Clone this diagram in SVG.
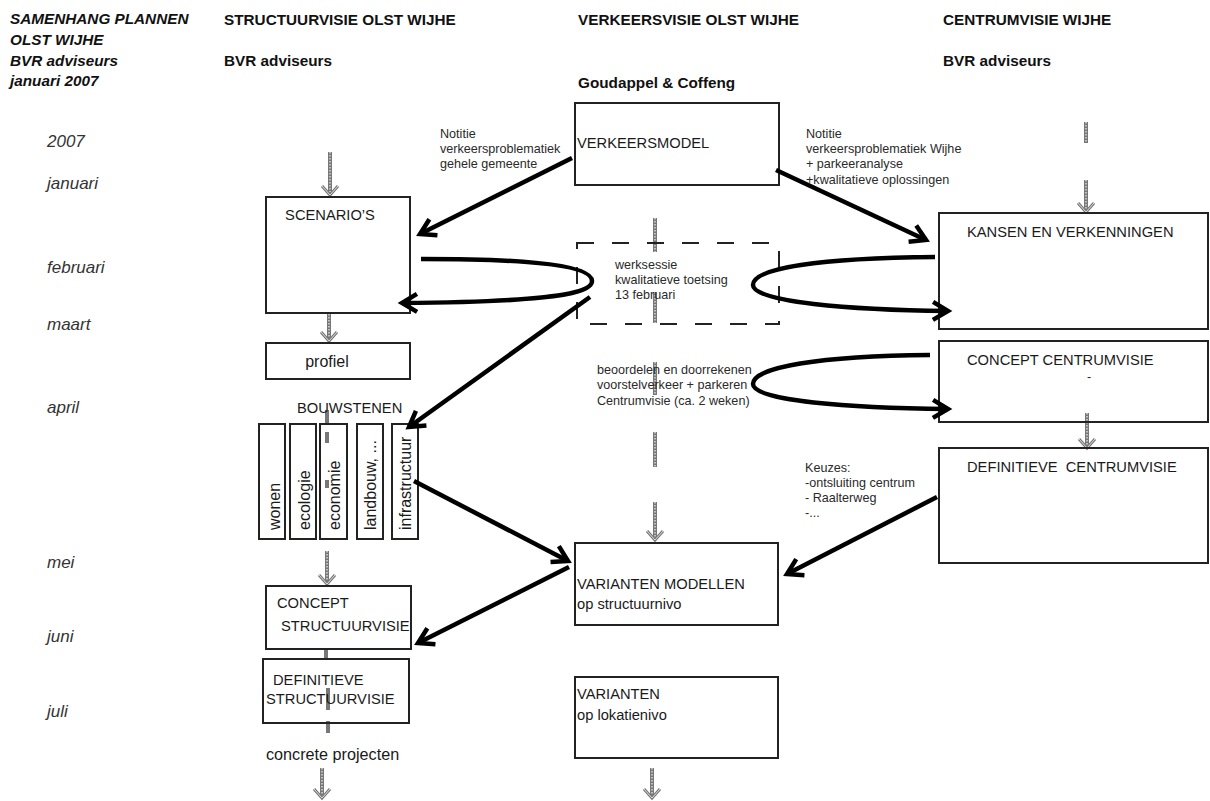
<svg xmlns="http://www.w3.org/2000/svg" width="1210" height="801" viewBox="0 0 1210 801">
<defs>
<style>
.t{font-family:"Liberation Sans",Arial,sans-serif;fill:#1a1a1a}
.hdr{font-weight:bold;font-size:15.3px;fill:#111}
.hi{font-weight:bold;font-style:italic;font-size:15.3px;fill:#111}
.mon{font-style:italic;font-size:17px;fill:#333}
.note{font-size:12.6px;fill:#2a2a2a}
.bt{font-size:14.7px;fill:#1a1a1a}
.box{fill:none;stroke:#222;stroke-width:2}
.con path{fill:none;stroke:#000;stroke-width:4.5;marker-end:url(#ah)}
.gs{stroke:#777;stroke-width:4;fill:none}
.gi{stroke:#e0e0e0;stroke-width:1.4;stroke-dasharray:1.5 1.5;fill:none}
.dash{fill:none;stroke:#222;stroke-width:2;stroke-dasharray:17 18}
</style>
<marker id="ah" markerUnits="userSpaceOnUse" markerWidth="30" markerHeight="30" refX="0" refY="0" viewBox="-20 -15 25 30" orient="auto" overflow="visible">
<path d="M -15 -9 L 0 0 L -15 9" fill="none" stroke="#000" stroke-width="4.5" stroke-linejoin="miter"/>
</marker>
<marker id="gh" markerUnits="userSpaceOnUse" markerWidth="24" markerHeight="24" refX="0" refY="0" viewBox="-14 -12 18 24" orient="auto" overflow="visible">
<path d="M -9 -8 L 0 0 L -9 8" fill="none" stroke="#777" stroke-width="3"/>
<path d="M -9 -8 L 0 0 L -9 8" fill="none" stroke="#ddd" stroke-width="1"/>
</marker>
</defs>
<rect width="1210" height="801" fill="#fff"/>

<g id="headers">
<text class="t hi" x="10" y="24">SAMENHANG PLANNEN</text>
<text class="t hi" x="10" y="45">OLST WIJHE</text>
<text class="t hi" x="10" y="66">BVR adviseurs</text>
<text class="t hi" x="10" y="86">januari 2007</text>
<text class="t hdr" x="224" y="25">STRUCTUURVISIE OLST WIJHE</text>
<text class="t hdr" x="224" y="66">BVR adviseurs</text>
<text class="t hdr" x="578" y="25">VERKEERSVISIE OLST WIJHE</text>
<text class="t hdr" x="578" y="88">Goudappel &amp; Coffeng</text>
<text class="t hdr" x="943" y="25">CENTRUMVISIE WIJHE</text>
<text class="t hdr" x="943" y="66">BVR adviseurs</text>
</g>

<g id="months">
<text class="t mon" x="47" y="147">2007</text>
<text class="t mon" x="47" y="189">januari</text>
<text class="t mon" x="47" y="273">februari</text>
<text class="t mon" x="47" y="330">maart</text>
<text class="t mon" x="47" y="413">april</text>
<text class="t mon" x="47" y="568">mei</text>
<text class="t mon" x="47" y="642">juni</text>
<text class="t mon" x="47" y="717">juli</text>
</g>

<g id="gray-arrows">
<line class="gs" x1="330" y1="152" x2="330" y2="195" marker-end="url(#gh)"/><line class="gi" x1="330" y1="152" x2="330" y2="192"/>
<line class="gs" x1="329" y1="314" x2="329" y2="341" marker-end="url(#gh)"/><line class="gi" x1="329" y1="314" x2="329" y2="338"/>
<line class="gs" x1="327" y1="410" x2="327" y2="425"/>
<line class="gs" x1="327" y1="432" x2="327" y2="443"/>
<line class="gs" x1="327" y1="480" x2="327" y2="488"/>
<line class="gs" x1="327" y1="551" x2="327" y2="584" marker-end="url(#gh)"/><line class="gi" x1="327" y1="551" x2="327" y2="581"/>
<line class="gs" x1="326" y1="650" x2="326" y2="658"/>
<line class="gs" x1="328" y1="688" x2="328" y2="710"/>
<line class="gs" x1="328" y1="721" x2="328" y2="733"/>
<line class="gs" x1="322" y1="768" x2="322" y2="798" marker-end="url(#gh)"/><line class="gi" x1="322" y1="768" x2="322" y2="795"/>
<line class="gs" x1="655" y1="218" x2="655" y2="252"/><line class="gi" x1="655" y1="218" x2="655" y2="252"/>
<line class="gs" x1="655" y1="292" x2="655" y2="323"/><line class="gi" x1="655" y1="292" x2="655" y2="323"/>
<line class="gs" x1="655" y1="362" x2="655" y2="395"/><line class="gi" x1="655" y1="362" x2="655" y2="395"/>
<line class="gs" x1="655" y1="432" x2="655" y2="467"/><line class="gi" x1="655" y1="432" x2="655" y2="467"/>
<line class="gs" x1="655" y1="502" x2="655" y2="540" marker-end="url(#gh)"/><line class="gi" x1="655" y1="502" x2="655" y2="537"/>
<line class="gs" x1="652" y1="768" x2="652" y2="798" marker-end="url(#gh)"/><line class="gi" x1="652" y1="768" x2="652" y2="795"/>
<line class="gs" x1="1086" y1="122" x2="1086" y2="143"/><line class="gi" x1="1086" y1="122" x2="1086" y2="143"/>
<line class="gs" x1="1086" y1="180" x2="1086" y2="212" marker-end="url(#gh)"/><line class="gi" x1="1086" y1="180" x2="1086" y2="209"/>
<line class="gs" x1="1087" y1="413" x2="1087" y2="448" marker-end="url(#gh)"/><line class="gi" x1="1087" y1="413" x2="1087" y2="445"/>
</g>

<g id="n-verkeersmodel"><rect class="box" x="575" y="103" width="204" height="82"/><text class="t bt" x="577" y="148">VERKEERSMODEL</text></g>
<g id="n-scenarios"><rect class="box" x="266" y="197" width="144" height="116"/><text class="t bt" x="330" y="220" text-anchor="middle">SCENARIO’S</text></g>
<g id="n-profiel"><rect class="box" x="266" y="343" width="144" height="36"/><text class="t" x="327" y="367" text-anchor="middle" font-size="16">profiel</text></g>
<g id="n-bouwstenen">
<text class="t bt" x="297" y="413">BOUWSTENEN</text>
<rect class="box" x="259" y="424" width="26" height="115"/>
<rect class="box" x="290" y="424" width="26" height="115"/>
<rect class="box" x="320" y="424" width="27" height="115"/>
<rect class="box" x="357" y="424" width="26" height="115"/>
<rect class="box" x="392" y="424" width="26" height="115"/>
<text class="t" font-size="16" transform="translate(280,530) rotate(-90)">wonen</text>
<text class="t" font-size="16" transform="translate(310,530) rotate(-90)">ecologie</text>
<text class="t" font-size="16" transform="translate(340,530) rotate(-90)">economie</text>
<text class="t" font-size="16" transform="translate(376,530) rotate(-90)">landbouw, ...</text>
<text class="t" font-size="16" transform="translate(411,530) rotate(-90)">infrastructuur</text>
</g>
<g id="n-concept-structuurvisie"><rect class="box" x="266" y="586" width="145" height="63"/><text class="t bt" x="277" y="608">CONCEPT</text><text class="t bt" x="281" y="631">STRUCTUURVISIE</text></g>
<g id="n-definitieve-structuurvisie"><rect class="box" x="263" y="659" width="146" height="64"/><text class="t bt" x="273" y="685">DEFINITIEVE</text><text class="t bt" x="266" y="704">STRUCTUURVISIE</text></g>
<g id="n-concrete"><text class="t" x="266" y="760" font-size="16.2">concrete projecten</text></g>

<g id="n-werksessie">
<rect class="dash" x="577" y="243" width="202" height="81"/>
<text class="t note" x="615" y="269">werksessie</text>
<text class="t note" x="615" y="284">kwalitatieve toetsing</text>
<text class="t note" x="615" y="299">13 februari</text>
</g>
<g id="n-beoordelen">
<text class="t note" x="597" y="374">beoordelen en doorrekenen</text>
<text class="t note" x="597" y="389">voorstelverkeer + parkeren</text>
<text class="t note" x="597" y="405">Centrumvisie (ca. 2 weken)</text>
</g>
<g id="n-varianten-modellen"><rect class="box" x="575" y="543" width="203" height="82"/><text class="t bt" x="577" y="589">VARIANTEN MODELLEN</text><text class="t bt" x="577" y="609">op structuurnivo</text></g>
<g id="n-varianten-lokatie"><rect class="box" x="575" y="677" width="203" height="81"/><text class="t bt" x="577" y="699">VARIANTEN</text><text class="t bt" x="577" y="720">op lokatienivo</text></g>

<g id="n-kansen"><rect class="box" x="939" y="213" width="269" height="116"/><text class="t bt" x="967" y="237">KANSEN EN VERKENNINGEN</text></g>
<g id="n-concept-centrumvisie"><rect class="box" x="939" y="341" width="269" height="81"/><text class="t bt" x="967" y="365">CONCEPT CENTRUMVISIE</text><text class="t note" x="1087" y="381">-</text></g>
<g id="n-definitieve-centrumvisie"><rect class="box" x="939" y="448" width="269" height="115"/><text class="t bt" x="967" y="472" xml:space="preserve">DEFINITIEVE  CENTRUMVISIE</text></g>

<g id="notes">
<text class="t note" x="440" y="138">Notitie</text>
<text class="t note" x="440" y="153">verkeersproblematiek</text>
<text class="t note" x="440" y="168">gehele gemeente</text>
<text class="t note" x="806" y="138">Notitie</text>
<text class="t note" x="806" y="153">verkeersproblematiek Wijhe</text>
<text class="t note" x="806" y="168">+ parkeeranalyse</text>
<text class="t note" x="806" y="184">+kwalitatieve oplossingen</text>
<text class="t note" x="805" y="472" font-size="12">Keuzes:</text>
<text class="t note" x="805" y="487" font-size="12">-ontsluiting centrum</text>
<text class="t note" x="805" y="502" font-size="12">- Raalterweg</text>
<text class="t note" x="805" y="517" font-size="12">-...</text>
</g>

<g id="connectors" class="con">
<path d="M 572 158 L 420 234"/>
<path d="M 776 170 L 926 240"/>
<path d="M 421 259 C 500 259, 592 262, 592 281 C 592 297, 520 302, 402 303"/>
<path d="M 935 257 C 820 258, 753 268, 753 285 C 753 302, 850 310, 948 311"/>
<path d="M 930 355 C 820 356, 753 367, 753 384 C 753 401, 850 408, 948 409"/>
<path d="M 590 297 L 409 427"/>
<path d="M 414 481 L 568 561"/>
<path d="M 569 567 L 418 643"/>
<path d="M 937 497 L 787 574"/>
</g>
</svg>
